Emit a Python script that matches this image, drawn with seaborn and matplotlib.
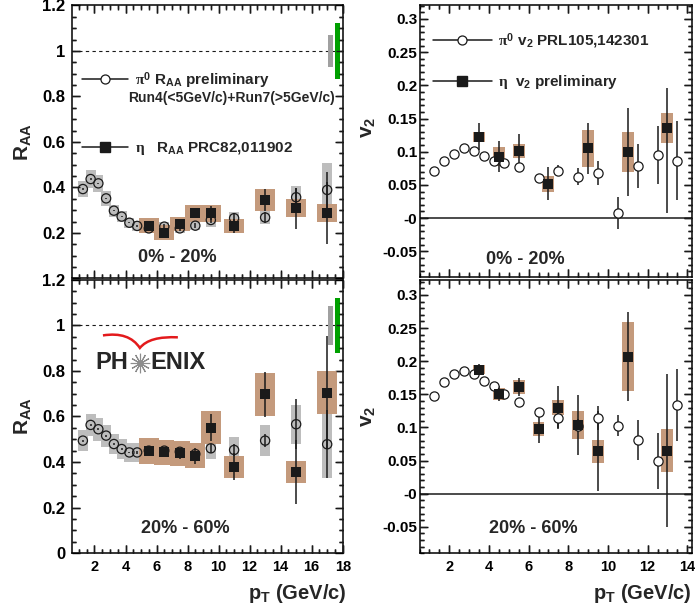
import matplotlib
matplotlib.use("Agg")
import matplotlib.pyplot as plt
import numpy as np
import pandas as pd
import seaborn as sns
from matplotlib.lines import Line2D
from matplotlib.path import Path
from matplotlib.patches import PathPatch
from matplotlib.ticker import MultipleLocator, FuncFormatter

# ---------------- data ----------------
# pi0 pT bins (RAA and v2 share the low-pT binning)
pt_pi0_raa = [1.25, 1.75, 2.25, 2.75, 3.25, 3.75, 4.25, 4.75, 5.5, 6.5, 7.5, 8.5, 9.5, 11, 13, 15, 17]
pt_eta_raa = [5.5, 6.5, 7.5, 8.5, 9.5, 11, 13, 15, 17]

# RAA 0-20%
raa_pi0_c = [0.393, 0.437, 0.418, 0.352, 0.298, 0.272, 0.245, 0.231, 0.22, 0.228, 0.22, 0.232, 0.257, 0.265, 0.268, 0.357, 0.389]
raa_pi0_c_stat = [0.003, 0.003, 0.003, 0.003, 0.003, 0.003, 0.003, 0.004, 0.01, 0.01, 0.01, 0.012, 0.015, 0.02, 0.025, 0.04, 0.08]
raa_pi0_c_sys = [0.035, 0.038, 0.037, 0.032, 0.027, 0.025, 0.022, 0.021, 0.02, 0.02, 0.02, 0.02, 0.03, 0.025, 0.03, 0.05, 0.12]
raa_eta_c = [0.231, 0.201, 0.238, 0.287, 0.287, 0.231, 0.345, 0.309, 0.287]
raa_eta_c_stat = [0.012, 0.015, 0.015, 0.02, 0.03, 0.03, 0.05, 0.09, 0.135]
raa_eta_c_sys = [0.033, 0.034, 0.03, 0.037, 0.037, 0.031, 0.047, 0.04, 0.039]

# RAA 20-60%
raa_pi0_p = [0.494, 0.563, 0.544, 0.516, 0.479, 0.457, 0.442, 0.442, 0.45, 0.45, 0.445, 0.435, 0.46, 0.453, 0.494, 0.566, 0.478]
raa_pi0_p_stat = [0.004, 0.004, 0.004, 0.004, 0.004, 0.004, 0.004, 0.005, 0.01, 0.01, 0.012, 0.015, 0.02, 0.025, 0.03, 0.11, 0.15]
raa_pi0_p_sys = [0.045, 0.05, 0.05, 0.048, 0.045, 0.043, 0.042, 0.042, 0.04, 0.04, 0.04, 0.04, 0.048, 0.055, 0.068, 0.085, 0.15]
raa_eta_p = [0.448, 0.442, 0.438, 0.428, 0.551, 0.379, 0.697, 0.357, 0.705]
raa_eta_p_stat = [0.02, 0.02, 0.025, 0.035, 0.06, 0.06, 0.1, 0.14, 0.25]
raa_eta_p_sys = [0.056, 0.056, 0.056, 0.056, 0.072, 0.049, 0.093, 0.049, 0.095]

# global normalisation uncertainties drawn at RAA = 1 (gray, green)
norm_pt = [17.22, 17.67]
norm_c = [0.07, 0.122]
norm_p = [0.087, 0.121]

# v2
pt_pi0_v2 = [1.25, 1.75, 2.25, 2.75, 3.25, 3.75, 4.25, 4.75, 5.5, 6.5, 7.5, 8.5, 9.5, 10.5, 11.5, 12.5, 13.5]
v2_pi0_c = [0.0716, 0.0866, 0.0967, 0.105, 0.1017, 0.094, 0.0866, 0.0827, 0.0767, 0.06, 0.0716, 0.0626, 0.0686, 0.0075, 0.0786, 0.095, 0.0866]
v2_pi0_c_stat = [0.002, 0.002, 0.002, 0.002, 0.002, 0.003, 0.003, 0.004, 0.006, 0.006, 0.008, 0.013, 0.018, 0.024, 0.033, 0.043, 0.06]
v2_pi0_p = [0.1468, 0.169, 0.18, 0.185, 0.18, 0.17, 0.162, 0.15, 0.139, 0.124, 0.114, 0.1027, 0.114, 0.1027, 0.081, 0.049, 0.134]
v2_pi0_p_stat = [0.002, 0.002, 0.002, 0.002, 0.002, 0.003, 0.003, 0.004, 0.006, 0.006, 0.0145, 0.01, 0.018, 0.0155, 0.03, 0.0426, 0.054]

pt_eta_v2_c = [3.5, 4.5, 5.5, 7, 9, 11, 13]
v2_eta_c = [0.1227, 0.0927, 0.101, 0.0516, 0.105, 0.1, 0.136]
v2_eta_c_lo = [0.02, 0.024, 0.025, 0.025, 0.039, 0.066, 0.128]
v2_eta_c_hi = [0.02, 0.024, 0.025, 0.025, 0.039, 0.066, 0.06]
v2_eta_c_sys = [0.0075, 0.014, 0.01, 0.0125, 0.028, 0.03, 0.0225]

pt_eta_v2_p = [3.5, 4.5, 5.5, 6.5, 7.5, 8.5, 9.5, 11, 13]
v2_eta_p = [0.187, 0.151, 0.161, 0.0977, 0.13, 0.1037, 0.064, 0.207, 0.065]
v2_eta_p_stat = [0.008, 0.011, 0.014, 0.021, 0.0326, 0.0456, 0.0606, 0.067, 0.115]
v2_eta_p_sys = [0.007, 0.009, 0.011, 0.011, 0.012, 0.021, 0.017, 0.052, 0.032]

BROWN = "#c49a7c"
GRAY = "#bdbdbd"

sns.set_theme(style="ticks")
plt.rcParams["font.family"] = ["Liberation Sans", "DejaVu Sans"]
plt.rcParams["font.weight"] = "bold"
plt.rcParams["axes.labelweight"] = "bold"
plt.rcParams["mathtext.fontset"] = "custom"
plt.rcParams["mathtext.rm"] = "Liberation Sans:bold"
plt.rcParams["mathtext.bf"] = "Liberation Sans:bold"
plt.rcParams["mathtext.it"] = "Liberation Serif"
plt.rcParams["axes.linewidth"] = 1.1
plt.rcParams["axes.edgecolor"] = "black"


def draw_set(ax, pt_a, y_a, err_a, sys_a, pt_b, y_b, err_b, sys_b,
             face_a, w_a, w_b):
    y_a = np.asarray(y_a)
    y_b = np.asarray(y_b)
    if sys_a is not None:
        s = np.asarray(sys_a)
        ax.bar(pt_a, 2 * s, bottom=y_a - s, width=w_a, color=GRAY, lw=0, zorder=1)
    s = np.asarray(sys_b)
    ax.bar(pt_b, 2 * s, bottom=y_b - s, width=w_b, color=BROWN, lw=0, zorder=1.5)
    ax.errorbar(pt_a, y_a, yerr=err_a, fmt="none", ecolor="k", elinewidth=1.1, zorder=2)
    ax.errorbar(pt_b, y_b, yerr=err_b, fmt="none", ecolor="k", elinewidth=1.1, zorder=2)
    sns.scatterplot(data=pd.DataFrame({"pt": pt_a, "val": y_a}), x="pt", y="val", ax=ax,
                    marker="o", s=44, color="k", facecolor=face_a, edgecolor="k",
                    linewidth=0.9, zorder=2.2)
    sns.scatterplot(data=pd.DataFrame({"pt": pt_b, "val": y_b}), x="pt", y="val", ax=ax,
                    marker="s", s=42, color="k", edgecolor="k", linewidth=0, zorder=2.4)
    ax.set_xlabel("")
    ax.set_ylabel("")


def style(ax, xlim, ylim, ymaj, ymin, fmt):
    ax.set_xlim(xlim)
    ax.set_ylim(ylim)
    ax.xaxis.set_major_locator(MultipleLocator(2))
    ax.xaxis.set_minor_locator(MultipleLocator(0.5))
    ax.yaxis.set_major_locator(MultipleLocator(ymaj))
    ax.yaxis.set_minor_locator(MultipleLocator(ymin))
    ax.yaxis.set_major_formatter(FuncFormatter(fmt))


def inner_ticks(ax):
    # short inward marks on all four sides, at the locator positions
    x0, x1 = ax.get_xlim()
    y0, y1 = ax.get_ylim()
    for locs, ln in ((ax.xaxis.get_majorticklocs(), 0.029), (ax.xaxis.get_minorticklocs(), 0.015)):
        locs = [v for v in locs if x0 < v < x1]
        tr = ax.get_xaxis_transform()
        ax.vlines(locs, 0, ln, transform=tr, color="k", lw=1.0, zorder=3, clip_on=False)
        ax.vlines(locs, 1 - ln, 1, transform=tr, color="k", lw=1.0, zorder=3, clip_on=False)
    for locs, ln in ((ax.yaxis.get_majorticklocs(), 0.029), (ax.yaxis.get_minorticklocs(), 0.015)):
        locs = [v for v in locs if y0 < v < y1]
        tr = ax.get_yaxis_transform()
        ax.hlines(locs, 0, ln, transform=tr, color="k", lw=1.0, zorder=3, clip_on=False)
        ax.hlines(locs, 1 - ln, 1, transform=tr, color="k", lw=1.0, zorder=3, clip_on=False)


fig = plt.figure(figsize=(6.95, 6.12), dpi=100)
ax_rc = fig.add_axes([0.1036, 0.545, 0.3906, 0.4461])
ax_rp = fig.add_axes([0.1036, 0.0964, 0.3906, 0.4461])
ax_vc = fig.add_axes([0.6036, 0.5482, 0.3921, 0.4436])
ax_vp = fig.add_axes([0.6036, 0.0959, 0.3921, 0.4466])

# ---- RAA panels ----
draw_set(ax_rc, pt_pi0_raa, raa_pi0_c, raa_pi0_c_stat, raa_pi0_c_sys,
         pt_eta_raa, raa_eta_c, raa_eta_c_stat, raa_eta_c_sys, "none", 0.65, 1.28)
draw_set(ax_rp, pt_pi0_raa, raa_pi0_p, raa_pi0_p_stat, raa_pi0_p_sys,
         pt_eta_raa, raa_eta_p, raa_eta_p_stat, raa_eta_p_sys, "none", 0.65, 1.28)
for ax, nrm in ((ax_rc, norm_c), (ax_rp, norm_p)):
    n = np.asarray(nrm)
    ax.bar(norm_pt, 2 * n, bottom=1 - n, width=[0.32, 0.28],
           color=["#a0a0a0", "#00a000"], lw=0, zorder=2)
    ax.axhline(1, color="k", lw=0.8, ls=(0, (3, 3)), zorder=0.5)

fmt_top = lambda v, p: "" if abs(v) < 1e-9 else f"{v:g}"
fmt_bot = lambda v, p: f"{v:g}"
fmt_v2 = lambda v, p: "-0" if abs(v) < 1e-9 else f"{v:g}"
style(ax_rc, (0.55, 18.05), (0, 1.2), 0.2, 0.05, fmt_top)
style(ax_rp, (0.55, 18.05), (0, 1.2), 0.2, 0.05, fmt_bot)

# ---- v2 panels ----
draw_set(ax_vc, pt_pi0_v2, v2_pi0_c, v2_pi0_c_stat, None,
         pt_eta_v2_c, v2_eta_c, [v2_eta_c_lo, v2_eta_c_hi], v2_eta_c_sys, "white", 0.6, 0.6)
draw_set(ax_vp, pt_pi0_v2, v2_pi0_p, v2_pi0_p_stat, None,
         pt_eta_v2_p, v2_eta_p, v2_eta_p_stat, v2_eta_p_sys, "white", 0.6, 0.6)
for ax in (ax_vc, ax_vp):
    ax.axhline(0, color="k", lw=1.1, zorder=0.5)
style(ax_vc, (0.5, 14.24), (-0.088, 0.321), 0.05, 0.01, fmt_v2)
style(ax_vp, (0.5, 14.24), (-0.09, 0.3225), 0.05, 0.01, fmt_v2)

# axis titles
for ax, yl in ((ax_rc, 0.5), (ax_rp, 0.5)):
    ax.set_ylabel(r"$\mathrm{R}_{\mathrm{AA}}$", fontsize=15)
    ax.yaxis.set_label_coords(-0.145, yl)
for ax, yl in ((ax_vc, 0.55), (ax_vp, 0.5)):
    ax.set_ylabel(r"$\mathrm{v}_{2}$", fontsize=15)
    ax.yaxis.set_label_coords(-0.155, yl)
for ax, xl in ((ax_rp, 1.012), (ax_vp, 1.0)):
    ax.set_xlabel(r"$\mathrm{p}_{\mathrm{T}}$ (GeV/c)", fontsize=14.5, ha="right",
                  fontweight="bold")
    ax.xaxis.set_label_coords(xl, -0.105)

# centrality labels
for ax, txt, x, y in ((ax_rc, "0% - 20%", 0.387, 0.077), (ax_rp, "20% - 60%", 0.416, 0.088),
                      (ax_vc, "0% - 20%", 0.387, 0.063), (ax_vp, "20% - 60%", 0.4165, 0.089)):
    ax.text(x, y, txt, transform=ax.transAxes, ha="center", va="center", fontsize=13)

# legends
h_pi0 = Line2D([], [], color="k", lw=1.1, marker="o", ms=6.5, mfc="white", mec="k", mew=0.9)
h_eta = Line2D([], [], color="k", lw=1.1, marker="s", ms=6.5, mfc="k", mec="k")
ax_rc.legend([h_pi0, h_eta],
             [r"$\pi^{0}$ $\mathrm{R}_{\mathrm{AA}}$ preliminary",
              r"$\eta$   $\mathrm{R}_{\mathrm{AA}}$ PRC82,011902"],
             loc="upper left", bbox_to_anchor=(0.037, 0.765), frameon=False, fontsize=11,
             handlelength=3.0, handletextpad=0.45, labelspacing=3.25, borderpad=0,
             borderaxespad=0)
ax_rc.text(0.206, 0.661, "Run4(<5GeV/c)+Run7(>5GeV/c)", transform=ax_rc.transAxes,
           ha="left", va="center", fontsize=10)
ax_vc.legend([h_pi0, h_eta],
             [r"$\pi^{0}$ $\mathrm{v}_{2}$ PRL105,142301",
              r"$\eta$  $\mathrm{v}_{2}$ preliminary"],
             loc="upper left", bbox_to_anchor=(0.048, 0.905), frameon=False, fontsize=11,
             handlelength=3.9, handletextpad=0.4, labelspacing=1.45, borderpad=0,
             borderaxespad=0)

# PHENIX logo
ax_rp.text(0.206, 0.696, "PH", transform=ax_rp.transAxes, ha="right", va="center",
           fontsize=17, fontweight="bold")
ax_rp.text(0.287, 0.696, "ENIX", transform=ax_rp.transAxes, ha="left", va="center",
           fontsize=17, fontweight="bold")
ax_rp.plot([0.25], [0.696], transform=ax_rp.transAxes, marker=(12, 2, 0), ms=14,
           mec="#8c8c8c", mew=0.8, ls="none")
swoosh = Path([(0.114, 0.797), (0.21, 0.812), (0.25, 0.751), (0.285, 0.795), (0.39, 0.79)],
              [Path.MOVETO, Path.CURVE3, Path.CURVE3, Path.CURVE3, Path.CURVE3])
ax_rp.add_patch(PathPatch(swoosh, transform=ax_rp.transAxes, fc="none", ec="#e31a1c", lw=1.8))

# ticks: labels via matplotlib, inward marks on all four sides
for ax, ypad, ysize in ((ax_rc, 5, 12), (ax_rp, 5, 12), (ax_vc, 1.5, 11), (ax_vp, 1.5, 11)):
    ax.tick_params(axis="y", which="both", direction="in", left=True, right=True,
                   width=1.0, color="black", pad=ypad, labelsize=ysize, labelcolor="black")
    ax.tick_params(axis="x", which="both", direction="in", bottom=True, top=True,
                   width=1.0, color="black", pad=5, labelsize=10.5, labelcolor="black")
    ax.tick_params(which="major", length=5.8)
    ax.tick_params(which="minor", length=2.9)
    inner_ticks(ax)
for ax in (ax_rc, ax_vc):
    ax.tick_params(labelbottom=False)

fig.savefig("out.png", dpi=100)
